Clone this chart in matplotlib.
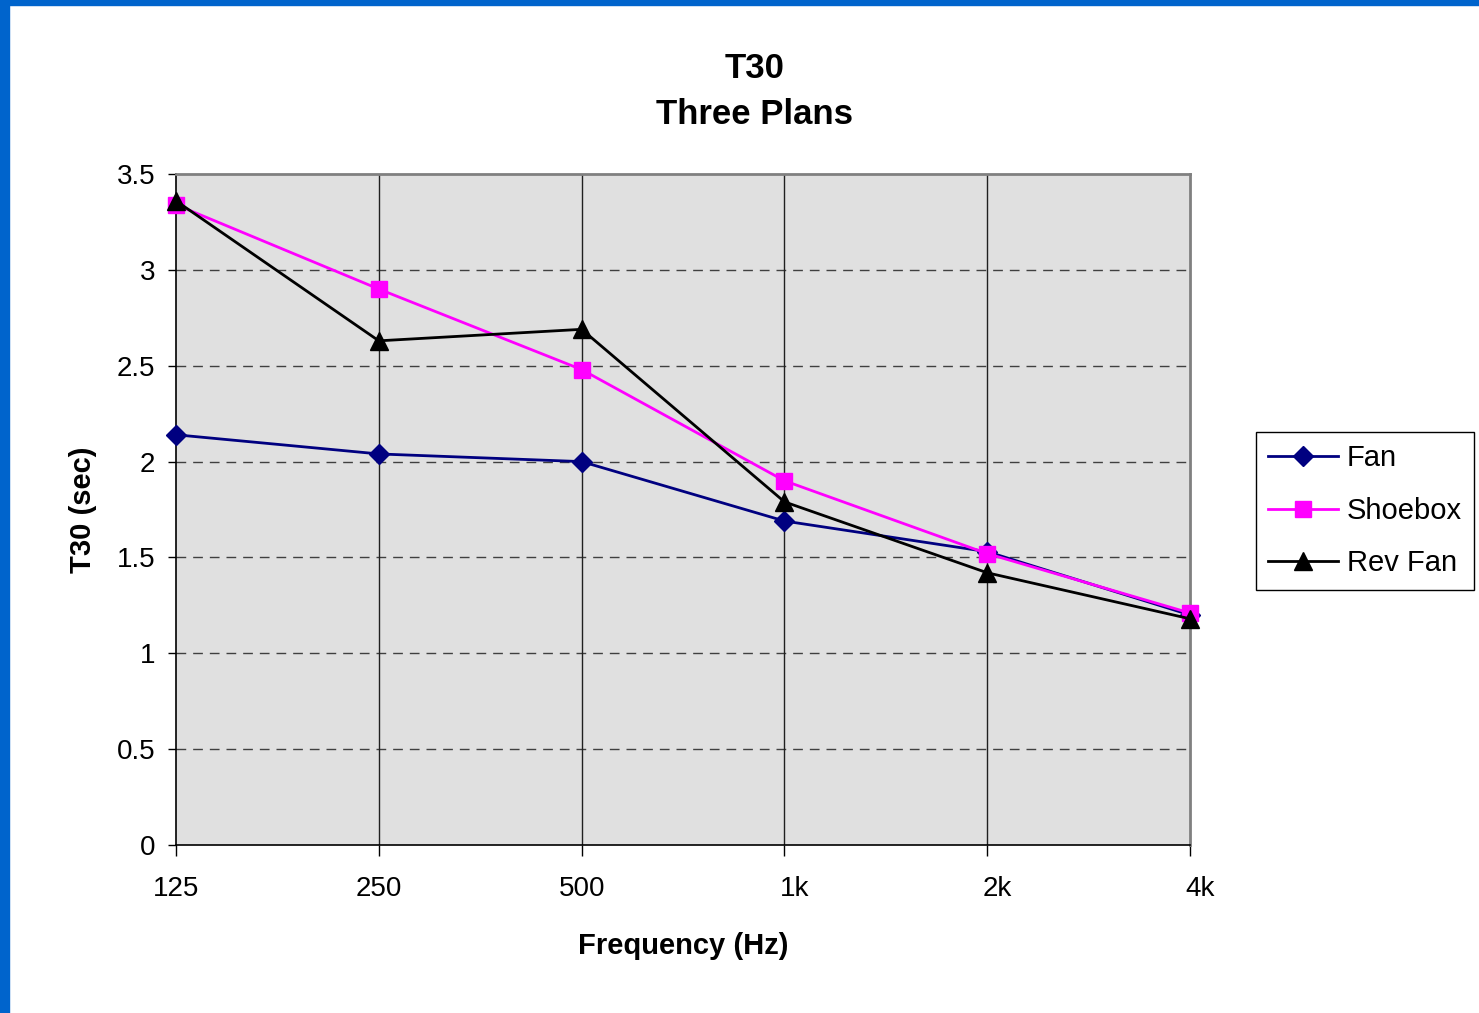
import matplotlib.pyplot as plt
import matplotlib.transforms as mtransforms
from matplotlib.patches import Rectangle

plt.rcParams['font.family'] = ['Liberation Sans', 'DejaVu Sans']

# Data
bands = ['125', '250', '500', '1k', '2k', '4k']
fan = [2.14, 2.04, 2.00, 1.69, 1.53, 1.20]
shoebox = [3.34, 2.90, 2.48, 1.90, 1.52, 1.21]
rev_fan = [3.36, 2.63, 2.69, 1.79, 1.42, 1.18]
yticks = [0, 0.5, 1, 1.5, 2, 2.5, 3, 3.5]

fig = plt.figure(figsize=(14.79, 10.13), dpi=100)
ax = fig.add_axes([0.119, 0.1658, 0.6857, 0.6624])
x = list(range(len(bands)))

# plot area
ax.set_facecolor('#E0E0E0')
ax.set_xlim(0, len(bands) - 1)
ax.set_ylim(0, 3.5)
ax.set_yticks(yticks)
ax.set_yticklabels(['0', '0.5', '1', '1.5', '2', '2.5', '3', '3.5'])
ax.set_xticks(x)
ax.set_xticklabels(bands)
ax.tick_params(axis='both', labelsize=20, direction='out', length=6, width=1, color='black')
ax.tick_params(axis='x', pad=14, length=8)
ax.tick_params(axis='y', pad=9)

# the "k" labels sit a little right of their ticks in the original
shift = mtransforms.ScaledTranslation(0.1, 0, fig.dpi_scale_trans)
for lab in ax.get_xticklabels():
    if lab.get_text().endswith('k'):
        lab.set_transform(lab.get_transform() + shift)

# grid lines
for yv in yticks[1:-1]:
    ax.axhline(yv, color='#404040', lw=1, dashes=(7, 5), zorder=1)
for xv in x[1:-1]:
    ax.axvline(xv, color='#202020', lw=1, zorder=1)

for s in ['top', 'right']:
    ax.spines[s].set_color('#808080')
    ax.spines[s].set_linewidth(2)
for s in ['left', 'bottom']:
    ax.spines[s].set_color('black')
    ax.spines[s].set_linewidth(1.2)

ax.plot(x, fan, color='#000080', lw=2, marker='D', markersize=10, label='Fan', zorder=3, clip_on=False)
ax.plot(x, shoebox, color='#FF00FF', lw=2, marker='s', markersize=12, label='Shoebox', zorder=4, clip_on=False)
ax.plot(x, rev_fan, color='black', lw=2, marker='^', markersize=13, label='Rev Fan', zorder=5, clip_on=False)

ax.set_xlabel('Frequency (Hz)', fontsize=21, fontweight='bold', labelpad=22)
ax.set_ylabel('T30 (sec)', fontsize=21, fontweight='bold', labelpad=14)

fig.text(0.51, 0.932, 'T30', ha='center', va='center', fontsize=25, fontweight='bold')
fig.text(0.51, 0.887, 'Three Plans', ha='center', va='center', fontsize=25, fontweight='bold')

leg = ax.legend(loc='upper left', bbox_to_anchor=(0.8492, 0.5735), bbox_transform=fig.transFigure,
                fontsize=21, frameon=True, fancybox=False, edgecolor='black', framealpha=1,
                handlelength=2.4, handletextpad=0.3, labelspacing=0.84, borderpad=0.42,
                borderaxespad=0)
leg.get_frame().set_linewidth(1)

# blue slide border
fig.add_artist(Rectangle((0, 0), 9 / 1479, 1, transform=fig.transFigure, color='#0064CC', zorder=10))
fig.add_artist(Rectangle((0, 1 - 5 / 1013), 1, 5 / 1013, transform=fig.transFigure, color='#0064CC', zorder=10))

plt.savefig('out.png', dpi=100)
